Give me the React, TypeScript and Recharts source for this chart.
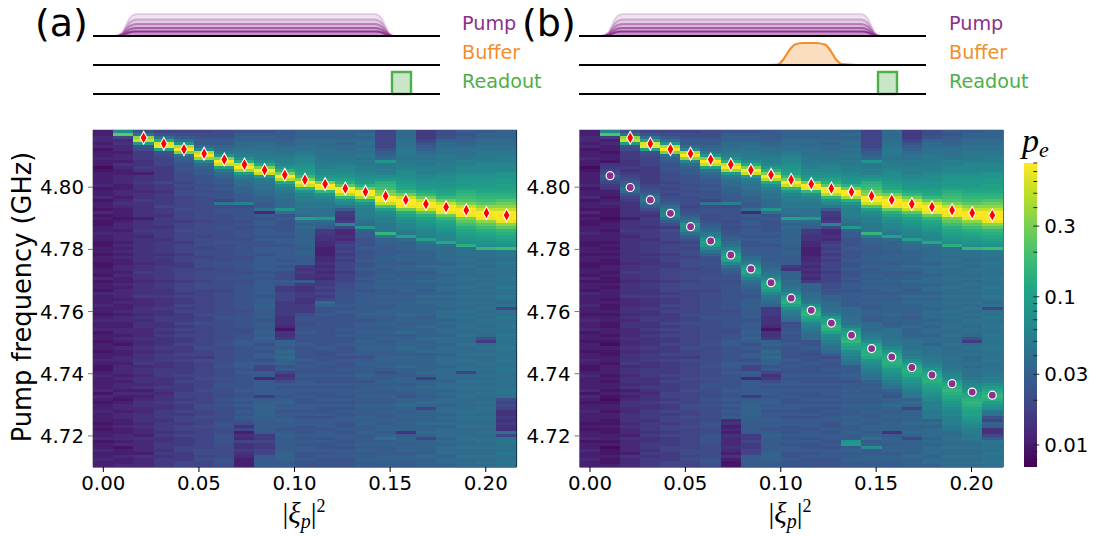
import React from 'react';
import { ComposedChart, Scatter, Area, XAxis, YAxis, ReferenceLine } from 'recharts';

const FONT = 'DejaVu Sans';
const MATH = 'Liberation Serif';
const PURPLE = '#8e2f8e';
const ORANGE = '#f28e2b';
const GREEN = '#4daf4a';

// --- heat map: one string per pump column, one base-36 colour level per frequency row (top to bottom)
const heatColumnsA: string[] = [
  '33443423343312 33334233423324 23223343322332 33223324233243 33433234334233 23323343223433 33424323343332 32334233433433',
  'hq745443443543 34443344345433 32344344434343 43344343343444 34334344334434 32433443444343 44343234434433 43344342334334',
  '9dtwj986665565 35565545565555 53555654555555 55455655455556 44455454554445 44545556455455 45343455445554 54435444435444',
  '79dlxyk9877766 66676656666766 56665666566665 65566666566556 55565566556565 55656665566655 56545565566656 66565566565666',
  '78adivzsdba999 88878788777787 77677877767776 77667777677767 66767666767676 67667676666767 66677676676776 77676667766677',
  '789aacgvztgcba a9998989888888 88788887888788 78887888788777 77777877877777 77877687777787 77877778877877 87777777887877',
  '889aabceiszwke cbaa9a9997e899 88889888898888 88988889888788 88888898888888 89888888988898 99888989888889 98899988888998',
  '9abbccdefhmwzu jfdccbbaaaf899 99898999899999 89999899899999 99998999998899 aa99999aa9a999 99a99a9a9a9a98 57354755654333',
  '9abbcddeefhlsz wjfeddccbbaad4 a9aa9aa9a99aa9 aaaaa9a9aaaaa9 aabaaaa9aaabab a8a9aa8a77aa4a aaaa6abbbbbbaa aaa6676677aaaa',
  'aaabbcddeffgim szvlhfeddcccid 9a9999a9aa9aaa a9a9a888a96677 76666655542556 bbacbcbb9a7568 a9aa9abaa9aaba a9abaaaaabbbaa',
  'bbbccddefgghij knszwnigffeedd ckcbcbbbbbbabb aaa65655a65566 55666899899a99 9a9999a9a99a9a a9a9a99aa9a9aa 999a9a9aa99a99',
  'bbbcccdddeeffg hikszynigfeedd djcba665544333 44545454667676 7cb99a99999999 99a9899a999a99 a9a99a9a99a9aa a9aa9a99a9a999',
  'bbbcbccddeefgg hikmqzzvnigea6 656g7445467676 76777677788999 99a9a99999a9a9 9a99a8a99a9a99 a9aa9a9a9a9aa9 9a9aa9a9aaa999',
  'bcbcdcddedeeff ghijmrzzumigff fedcjbaa999a99 9a99a99a9aa9aa aaaaaba9aaabaa babaa9abaaaba9 aababaabaaabab aabaaababaabaa',
  '7777779abcieef fhjmnortzzwpkh gffeeenebbaaaa baabaabababaab abaabbaabaabab aabaabbaba8aab abaabaababaaba bbabdabaaabbaa',
  'cccdddeeedeffg hhijklnrwzzyrm kihggfekcbbbab bbabbaabbabbab abbbbcbbabbcab bbcbabbbcbaabb abba9bbcbabbab bb5abbabbabbaa',
  '66679abcddeeff fghiijlnrwzzwq mkjihggfkdccbb bbbcbabbcbbabc bcbbbbabbcbbbc bbbcabbbbbcb6b bcbbabcb7bbbbc bbcb7bbbbbcbbb',
  '889bccddeeefff ghhiijklnrwzzy rnlkjihggldccc ccbcccbccbccbc bccbcccbcbccbc cbccbcccbccccb ccbcbccbccbcbc bcccbcbcccbccb',
  'a9abbcdddeffgg hiijjkmnopswzz ysqomlkjihmddd cdcdcccdccdccd cdccdcdccdccdc cdccdcdccd7ccd cdccdccccdcdcc dcccdccdccdccc',
  'abbccddeeefggg hiijjklmnoqtwz zytqomlkjihndd dcdcddcdcdcdcd cdcdcdcddcdcc9 6cdcdccdcdcdcd cdcdccdcddcdcc dcdcddcdccdcdc',
  'bbbccddeeffggg iijjkklmnprtwz zzytqnmlkjioee ddeddddeddedde dcd7ddeddedded ddedddeddedddd ddedd878755656 55d7dedddedded',
];

// panel (b) differs from (a) by the branch that follows the buffer drive: [column, first row, levels]
const heatOverridesB: [number, number, string][] = [
  [1, 11, '5678a9765'],
  [2, 14, '678abdc9765'],
  [3, 17, '6789bdeca865'],
  [4, 21, '789acefgda86'],
  [5, 25, '789aceihgdb97'],
  [6, 29, '89abcefikjgdb98'],
  [7, 33, '99abcdfhjlkgdba'],
  [7, 96, '4534354445435322'],
  [8, 38, '9aabcdfiklifdcba'],
  [9, 42, 'aabbcdegjlljgedcb'],
  [10, 47, 'bbbccdegjlmkhfedc'],
  [11, 51, 'bbbccdehkmnljgfedcc'],
  [12, 55, 'bbccddfiklnmkhgfedc'],
  [13, 59, 'ccccddfiklmnlkhgfed'],
  [13, 103, 'ij'],
  [14, 64, 'cccdefhklmmlihgfedd'],
  [14, 105, 'h'],
  [15, 66, 'ddddeegiklmmljihgfed'],
  [16, 70, 'dddeefhjlmmljihgfee'],
  [17, 72, 'dddeefgiklmmlkjihgfffeee'],
  [18, 75, 'dddeefghjlmnmlkjihggfffee'],
  [19, 78, 'cdddefghiklmnmlkkjihgffee'],
  [20, 77, 'dddeeffhjlmnmkihed97ba557a'],
];
const columnOffsetB = [0, -1, 0, 0, 0, 0, 0, 0, 0, 0, 0, 0, 0, 0, 0, 0, 0, 0, 0, 0, 0];

// --- fitted resonances
const redColumns = [2, 3, 4, 5, 6, 7, 8, 9, 10, 11, 12, 13, 14, 15, 16, 17, 18, 19, 20];
const redFreqs = [4.8159, 4.814, 4.8122, 4.8108, 4.8089, 4.8073, 4.8055, 4.804, 4.8024, 4.801, 4.7996, 4.7985, 4.7972, 4.7959, 4.7946, 4.7936, 4.7926, 4.7917, 4.791];
const circleColumns = [1, 2, 3, 4, 5, 6, 7, 8, 9, 10, 11, 12, 13, 14, 15, 16, 17, 18, 19, 20];
const circleFreqs = [4.8037, 4.7999, 4.7959, 4.7916, 4.7873, 4.7827, 4.7782, 4.7737, 4.7693, 4.7643, 4.7604, 4.7563, 4.7524, 4.7481, 4.7454, 4.742, 4.7396, 4.7368, 4.7341, 4.7331];
const dashedAt = 0.0759;

// --- axes
const xTicks = [0, 0.05, 0.1, 0.15, 0.2];
const yTicks = [4.72, 4.74, 4.76, 4.78, 4.8];
const columnStep = 0.010545;
const rowCount = 112;
const Y_MIN = 4.71;
const Y_MAX = 4.8184;
const PE_MIN = 0.0071;
const PE_MAX = 0.8;
const cbarTicks = [0.008, 0.009, 0.01, 0.02, 0.03, 0.04, 0.05, 0.06, 0.07, 0.08, 0.09, 0.1, 0.2, 0.3, 0.4, 0.5, 0.6, 0.7, 0.8];
const cbarMajor = [0.01, 0.03, 0.1, 0.3];

// --- pulse envelopes
const pumpTime = [22, 26, 30, 33, 36, 39, 43, 60, 150, 270, 283, 286, 289, 292, 295, 298, 301];
const pumpShape = [0, 0.03, 0.2, 0.5, 0.78, 0.93, 1, 1, 1, 1, 1, 0.93, 0.78, 0.5, 0.2, 0.03, 0];
const pumpLevels = [22, 16.5, 12, 8, 4.5];
const pumpOpacity = [0.18, 0.3, 0.45, 0.65, 0.95];
const bufferTime = [186, 199, 205, 210, 216, 223.5, 236.5, 246, 251.5, 257, 263, 278];
const bufferShape = [0, 0.02, 0.3, 0.65, 0.93, 1, 1, 0.93, 0.65, 0.25, 0.04, 0];
const bufferHeight = 22;
const readoutTime = [299, 299, 318, 318];
const readoutShape = [0, 1, 1, 0];
const readoutHeight = 22;
const channelBase = { pump: 64, buffer: 35, readout: 6 };

const VIRIDIS = ['#440154', '#482475', '#414487', '#355f8d', '#2a788e', '#21918c', '#22a884', '#44bf70', '#7ad151', '#bddf26', '#fde725'];
const hex = (s: string, i: number) => parseInt(s.slice(1 + 2 * i, 3 + 2 * i), 16);
function viridis(t: number) {
  const c = Math.max(0, Math.min(0.99999, t)) * 10;
  const i = Math.floor(c);
  const f = c - i;
  const ch = [0, 1, 2].map((j) => Math.round(hex(VIRIDIS[i], j) * (1 - f) + hex(VIRIDIS[i + 1], j) * f));
  return `rgb(${ch[0]},${ch[1]},${ch[2]})`;
}
const peNorm = (pe: number) => Math.log(pe / PE_MIN) / Math.log(PE_MAX / PE_MIN);
const levelToPe = (l: number) => PE_MIN * Math.pow(PE_MAX / PE_MIN, l / 35);

function buildCells(overrides: [number, number, string][], offsets: number[]) {
  const dy = (Y_MAX - Y_MIN) / rowCount;
  const out: { x: number; y: number; pe: number }[] = [];
  heatColumnsA.forEach((col, k) => {
    const raw = col.replace(/\s/g, '');
    const levels: number[] = [];
    for (let r = 0; r < rowCount; r++) {
      const ch = raw[Math.min(r, raw.length - 1)];
      levels.push(Math.max(0, parseInt(ch, 36) + (offsets[k] || 0)));
    }
    overrides.filter((o) => o[0] === k).forEach((o) => {
      o[2].split('').forEach((ch, i) => {
        if (o[1] + i < rowCount) levels[o[1] + i] = parseInt(ch, 36);
      });
    });
    levels.forEach((l, r) => out.push({ x: k * columnStep, y: Y_MAX - (r + 0.5) * dy, pe: levelToPe(l) }));
  });
  return out;
}
const cellsA = buildCells([], []);
const cellsB = buildCells(heatOverridesB, columnOffsetB);
const redPoints = redColumns.map((k, i) => ({ x: k * columnStep, y: redFreqs[i] }));
const circlePoints = circleColumns.map((k, i) => ({ x: k * columnStep, y: circleFreqs[i] }));

const HeatCell = (p: any) => (
  <rect x={p.cx - 10.2} y={p.cy - 1.65} width={20.4} height={3.3} fill={viridis(peNorm(p.payload.pe))} stroke="none" shapeRendering="crispEdges" />
);
const Diamond = (p: any) => (
  <path d={`M${p.cx} ${p.cy - 6.4}L${p.cx + 3.5} ${p.cy}L${p.cx} ${p.cy + 6.4}L${p.cx - 3.5} ${p.cy}Z`} fill="#ff0000" stroke="#fff" strokeWidth={1.1} />
);
const Dot = (p: any) => <circle cx={p.cx} cy={p.cy} r={4} fill={PURPLE} stroke="#fff" strokeWidth={1.2} />;

const tickStyle = { fontFamily: FONT, fontSize: 19.8, fill: '#000' };

function HeatPanel({ left, xMin, xMax, cells, circles, dashed }: any) {
  const plotW = 423.5;
  return (
    <div style={{ position: 'absolute', left: 0, top: 0 }}>
      <ComposedChart width={1098} height={536} margin={{ left: left - 60, right: 1098 - left - plotW, top: 130, bottom: 39 }}>
        <XAxis type="number" dataKey="x" domain={[xMin, xMax]} ticks={xTicks} tickFormatter={(v: number) => v.toFixed(2)} tick={tickStyle} tickSize={5} tickMargin={4} height={30} allowDataOverflow stroke="#000" interval={0} />
        <YAxis type="number" dataKey="y" domain={[Y_MIN, Y_MAX]} ticks={yTicks} tickFormatter={(v: number) => v.toFixed(2)} tick={tickStyle} tickSize={5} tickMargin={4} width={60} allowDataOverflow stroke="#777" interval={0} />
        <Scatter data={cells} shape={HeatCell} isAnimationActive={false} />
        {dashed !== undefined && <ReferenceLine x={dashed} stroke="#fff" strokeWidth={2} strokeDasharray="7 4" />}
        {circles && <Scatter data={circles} shape={Dot} isAnimationActive={false} />}
        <Scatter data={redPoints} shape={Diamond} isAnimationActive={false} />
        <ReferenceLine y={Y_MAX} stroke="#999" strokeWidth={1} />
        <ReferenceLine x={xMax} stroke="#000" strokeWidth={1.2} />
      </ComposedChart>
    </div>
  );
}

const pumpRows = pumpTime.map((t, i) => ({ t, s: pumpShape[i] }));
const bufferRows = bufferTime.map((t, i) => ({ t, s: bufferShape[i] }));
const readoutRows = readoutTime.map((t, i) => ({ t, s: readoutShape[i] }));

function PulsePanel({ left, buffer }: { left: number; buffer: boolean }) {
  return (
    <div style={{ position: 'absolute', left, top: 0 }}>
      <ComposedChart width={347} height={100} margin={{ left: 0, right: 0, top: 0, bottom: 0 }}>
        <XAxis hide type="number" dataKey="t" domain={[0, 347]} />
        <YAxis hide type="number" domain={[0, 100]} width={0} />
        {pumpLevels.map((h, i) => (
          <Area key={i} data={pumpRows} dataKey={(d: any) => [channelBase.pump, channelBase.pump + h * d.s]} type="linear" stroke={PURPLE} strokeOpacity={pumpOpacity[i]} strokeWidth={2} fill={PURPLE} fillOpacity={0.13} isAnimationActive={false} dot={false} activeDot={false} />
        ))}
        {buffer && (
          <Area data={bufferRows} dataKey={(d: any) => [channelBase.buffer, channelBase.buffer + bufferHeight * d.s]} type="monotone" stroke={ORANGE} strokeWidth={2.2} fill={ORANGE} fillOpacity={0.3} isAnimationActive={false} dot={false} activeDot={false} />
        )}
        <Area data={readoutRows} dataKey={(d: any) => [channelBase.readout, channelBase.readout + readoutHeight * d.s]} type="linear" stroke={GREEN} strokeWidth={2.4} fill={GREEN} fillOpacity={0.3} isAnimationActive={false} dot={false} activeDot={false} />
        <ReferenceLine y={channelBase.pump} stroke="#000" strokeWidth={2.2} />
        <ReferenceLine y={channelBase.buffer} stroke="#000" strokeWidth={2.2} />
        <ReferenceLine y={channelBase.readout} stroke="#000" strokeWidth={2.2} />
      </ComposedChart>
    </div>
  );
}

const cbarCells = Array.from({ length: 160 }, (_, i) => ({ x: 0.5, pe: PE_MIN * Math.pow(PE_MAX / PE_MIN, (i + 0.5) / 160) }));
const CbarCell = (p: any) => <rect x={p.cx - 6.5} y={p.cy - 1.2} width={13} height={2.4} fill={viridis(peNorm(p.payload.pe))} shapeRendering="crispEdges" />;
const CbarTick = (p: any) => {
  const v = p.payload.value;
  const major = cbarMajor.includes(v);
  return (
    <g>
      <line x1={p.x - 4} x2={p.x + (major ? 2 : 0)} y1={p.y} y2={p.y} stroke="#222" strokeWidth={1} />
      {major && (
        <text x={p.x + 7} y={p.y + 7.2} fontFamily={FONT} fontSize={19.8} fill="#000">
          {String(v)}
        </text>
      )}
    </g>
  );
};

function Colorbar() {
  return (
    <div style={{ position: 'absolute', left: 0, top: 0 }}>
      <ComposedChart width={1098} height={536} margin={{ left: 1024.3, right: 1098 - 1037.3 - 50, top: 163, bottom: 69 }}>
        <XAxis hide type="number" dataKey="x" domain={[0, 1]} />
        <YAxis orientation="right" type="number" dataKey="pe" scale="log" domain={[PE_MIN, PE_MAX]} ticks={cbarTicks} tick={CbarTick} tickLine={false} axisLine={false} tickSize={0} tickMargin={0} width={50} allowDataOverflow interval={0} />
        <Scatter data={cbarCells} shape={CbarCell} isAnimationActive={false} />
      </ComposedChart>
    </div>
  );
}

function MathLabel({ cx }: { cx: number }) {
  return (
    <text x={cx} y={523} textAnchor="middle" fontFamily={MATH} fontSize={29} fill="#000">
      <tspan>|</tspan>
      <tspan fontStyle="italic">ξ</tspan>
      <tspan fontStyle="italic" fontSize={20} dy={5}>p</tspan>
      <tspan dy={-5}>|</tspan>
      <tspan fontSize={18} dy={-11}>2</tspan>
    </text>
  );
}

function Labels() {
  const small = { fontFamily: FONT, fontSize: 19.2 };
  return (
    <svg width={1098} height={536} style={{ position: 'absolute', left: 0, top: 0, pointerEvents: 'none' }}>
      <text x={35} y={36} fontFamily={FONT} fontSize={38} fill="#000">(a)</text>
      <text x={522} y={36} fontFamily={FONT} fontSize={38} fill="#000">(b)</text>
      {[462, 949].map((x) => (
        <g key={x}>
          <text x={x} y={30} {...small} fill={PURPLE}>Pump</text>
          <text x={x} y={59} {...small} fill={ORANGE}>Buffer</text>
          <text x={x} y={88} {...small} fill={GREEN}>Readout</text>
        </g>
      ))}
      <text transform="translate(31,297) rotate(-90)" textAnchor="middle" fontFamily={FONT} fontSize={25.7} fill="#000">Pump frequency (GHz)</text>
      <MathLabel cx={304} />
      <MathLabel cx={790} />
      <text x={1022} y={152} fontFamily={MATH} fontStyle="italic" fontSize={34} fill="#000">p</text>
      <text x={1039} y={157} fontFamily={MATH} fontStyle="italic" fontSize={22} fill="#000">e</text>
    </svg>
  );
}

export default function App() {
  return (
    <div style={{ position: 'absolute', left: 0, top: 0, width: 1098, height: 536, background: '#fff', overflow: 'hidden' }}>
      <PulsePanel left={93} buffer={false} />
      <PulsePanel left={579} buffer={true} />
      <HeatPanel left={93} xMin={-0.00539} xMax={0.21607} cells={cellsA} />
      <HeatPanel left={579.5} xMin={-0.0055} xMax={0.2165} cells={cellsB} circles={circlePoints} dashed={dashedAt} />
      <Colorbar />
      <Labels />
    </div>
  );
}
